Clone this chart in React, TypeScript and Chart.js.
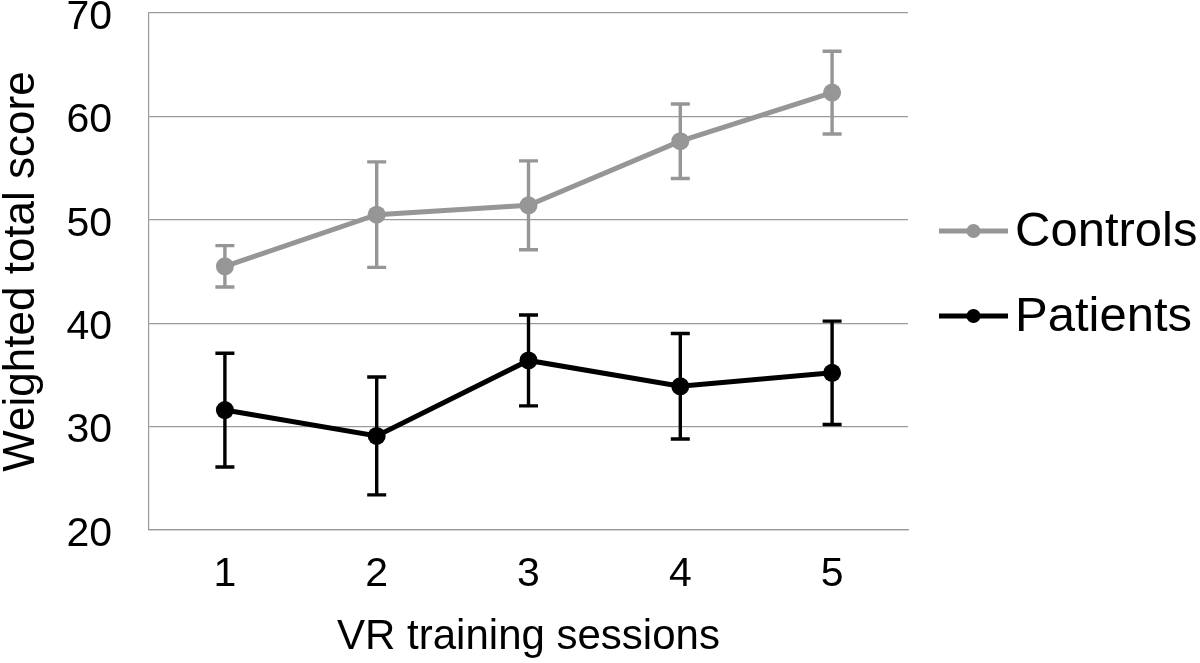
import React, { useEffect, useRef } from 'react';
import { Chart, registerables } from 'chart.js';

Chart.register(...registerables);

const sessions = ['1', '2', '3', '4', '5'];
const controlsMean = [45.5, 50.5, 51.4, 57.6, 62.3];
const controlsErr = [2.0, 5.1, 4.3, 3.6, 4.0];
const patientsMean = [31.6, 29.1, 36.4, 33.9, 35.2];
const patientsErr = [5.5, 5.7, 4.4, 5.1, 5.0];
const seriesLabels = ['Controls', 'Patients'];
const seriesColors = ['#969696', '#000000'];
const yMin = 20;
const yMax = 70;
const yStep = 10;

const FONT = '"Liberation Sans", Arial, Helvetica, sans-serif';
const GRID = '#9a9a9a';
const errorSets = [controlsErr, patientsErr];

const errorBarPlugin = {
  id: 'errorBars',
  beforeDatasetsDraw(chart: any) {
    const { ctx } = chart;
    const x = chart.scales.x;
    const y = chart.scales.y;
    chart.data.datasets.forEach((ds: any, i: number) => {
      const errs = errorSets[i];
      ctx.save();
      ctx.strokeStyle = ds.borderColor;
      ctx.lineWidth = 3.4;
      ds.data.forEach((v: number, j: number) => {
        const px = x.getPixelForValue(j);
        const top = y.getPixelForValue(v + errs[j]);
        const bot = y.getPixelForValue(v - errs[j]);
        const cap = 9.5;
        ctx.beginPath();
        ctx.moveTo(px, top);
        ctx.lineTo(px, bot);
        ctx.moveTo(px - cap, top);
        ctx.lineTo(px + cap, top);
        ctx.moveTo(px - cap, bot);
        ctx.lineTo(px + cap, bot);
        ctx.stroke();
      });
      ctx.restore();
    });
  },
};

const legendPlugin = {
  id: 'sideLegend',
  afterDraw(chart: any) {
    const { ctx, chartArea } = chart;
    const rows = [chartArea.top + 218, chartArea.top + 303];
    chart.data.datasets.forEach((ds: any, i: number) => {
      const yy = rows[i];
      const x0 = chartArea.right + 31;
      const x1 = chartArea.right + 100;
      ctx.save();
      ctx.strokeStyle = ds.borderColor;
      ctx.lineWidth = 5;
      ctx.beginPath();
      ctx.moveTo(x0, yy);
      ctx.lineTo(x1, yy);
      ctx.stroke();
      ctx.fillStyle = ds.borderColor;
      ctx.beginPath();
      ctx.arc((x0 + x1) / 2, yy, 7, 0, Math.PI * 2);
      ctx.fill();
      ctx.fillStyle = '#000';
      ctx.font = `49px ${FONT}`;
      ctx.textAlign = 'left';
      ctx.textBaseline = 'middle';
      ctx.fillText(ds.label, chartArea.right + 107, yy + 1);
      ctx.restore();
    });
  },
};

export default function App() {
  const ref = useRef<HTMLCanvasElement | null>(null);

  useEffect(() => {
    if (!ref.current) return;
    const means = [controlsMean, patientsMean];
    const chart = new Chart(ref.current, {
      type: 'line',
      data: {
        labels: sessions,
        datasets: seriesLabels.map((label, i) => ({
          label,
          data: means[i],
          borderColor: seriesColors[i],
          backgroundColor: seriesColors[i],
          pointBackgroundColor: seriesColors[i],
          pointBorderWidth: 0,
          pointRadius: 9,
          borderWidth: 5,
          tension: 0,
          fill: false,
        })),
      },
      options: {
        responsive: false,
        animation: false,
        layout: { padding: { top: 13, right: 292, left: 0, bottom: 0 } },
        plugins: {
          legend: { display: false },
          tooltip: { enabled: false },
        },
        scales: {
          x: {
            offset: true,
            grid: { display: false, drawTicks: false },
            border: { display: true, color: GRID, width: 1.2 },
            ticks: { font: { family: FONT, size: 41 }, color: '#000', padding: 20 },
            title: {
              display: true,
              text: 'VR training sessions',
              color: '#000',
              font: { family: FONT, size: 42, lineHeight: 1 },
              padding: { top: 0, bottom: 5 },
            },
            afterFit(scale: any) {
              scale.height = 133;
              scale.paddingLeft = 0;
              scale.paddingRight = 0;
            },
          },
          y: {
            min: yMin,
            max: yMax,
            ticks: {
              stepSize: yStep,
              font: { family: FONT, size: 41, lineHeight: '9px' },
              color: '#000',
              padding: 37,
              callback: (value: any) => ['', String(value)],
            },
            grid: { color: GRID, lineWidth: 1.2, drawTicks: false },
            border: { display: true, color: GRID, width: 1.2 },
            title: {
              display: true,
              text: 'Weighted total score',
              color: '#000',
              font: { family: FONT, size: 44, lineHeight: 1 },
              padding: { top: 0, bottom: 0 },
            },
            afterFit(scale: any) {
              scale.width = 149;
              scale.paddingTop = 0;
              scale.paddingBottom = 0;
            },
          },
        },
      },
      plugins: [errorBarPlugin, legendPlugin],
    });
    return () => chart.destroy();
  }, []);

  return (
    <div style={{ position: 'absolute', left: 0, top: 0, width: 1200, height: 663, background: '#fff' }}>
      <canvas ref={ref} width={1200} height={663} style={{ display: 'block' }} />
    </div>
  );
}
